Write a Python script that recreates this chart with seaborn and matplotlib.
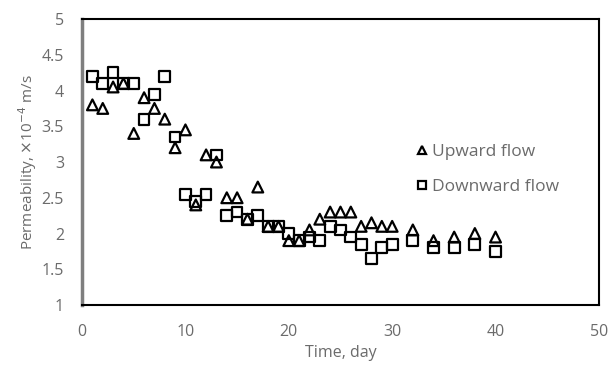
import matplotlib
matplotlib.use("Agg")
import matplotlib.pyplot as plt
import pandas as pd
import seaborn as sns

# data
days_up = [1, 2, 3, 4, 5, 6, 7, 8, 9, 10, 11, 12, 13, 14, 15, 16, 17, 18, 19, 20,
           21, 22, 23, 24, 25, 26, 27, 28, 29, 30, 32, 34, 36, 38, 40]
perm_up = [3.8, 3.75, 4.05, 4.1, 3.4, 3.9, 3.75, 3.6, 3.2, 3.45, 2.4, 3.1, 3.0, 2.5, 2.5,
           2.2, 2.65, 2.1, 2.1, 1.9, 1.9, 2.05, 2.2, 2.3, 2.3, 2.3, 2.1, 2.15, 2.1, 2.1,
           2.05, 1.9, 1.95, 2.0, 1.95]

days_down = [1, 2, 3, 4, 5, 6, 7, 8, 9, 10, 11, 12, 13, 14, 15, 16, 17, 18, 19, 20,
             21, 22, 23, 24, 25, 26, 27, 28, 29, 30, 32, 34, 36, 38, 40]
perm_down = [4.2, 4.1, 4.25, 4.1, 4.1, 3.6, 3.95, 4.2, 3.35, 2.55, 2.45, 2.55, 3.1, 2.25,
             2.3, 2.2, 2.25, 2.1, 2.1, 2.0, 1.9, 1.95, 1.9, 2.1, 2.05, 1.95, 1.85, 1.65,
             1.8, 1.85, 1.9, 1.8, 1.8, 1.85, 1.75]

sns.set_theme(style="white")
plt.rcParams["font.family"] = ["Open Sans", "DejaVu Sans"]

TEXT_GREY = "#6b6b6b"

df = pd.concat([
    pd.DataFrame({"day": days_up, "perm": perm_up, "flow": "Upward flow"}),
    pd.DataFrame({"day": days_down, "perm": perm_down, "flow": "Downward flow"}),
])

fig = plt.figure(figsize=(6.08, 3.67), dpi=100)
ax = fig.add_axes([0.135, 0.169, 0.85, 0.779])

sns.scatterplot(
    data=df, x="day", y="perm", hue="flow", style="flow",
    markers={"Upward flow": "^", "Downward flow": "s"},
    palette={"Upward flow": "black", "Downward flow": "black"},
    s=60, linewidth=1.6, ax=ax, legend=False,
)
for coll in ax.collections:
    coll.set_facecolor("none")
    coll.set_edgecolor("black")

ax.set_xlim(0, 50)
ax.set_ylim(1, 5)
ax.set_xticks(range(0, 51, 10))
ax.set_yticks([1, 1.5, 2, 2.5, 3, 3.5, 4, 4.5, 5])
ax.set_yticklabels(["1", "1.5", "2", "2.5", "3", "3.5", "4", "4.5", "5"])
ax.tick_params(colors=TEXT_GREY, labelsize=11.5, length=0)
ax.tick_params(axis="x", pad=14)
ax.tick_params(axis="y", pad=13)
ax.set_xlabel("Time, day", color=TEXT_GREY, fontsize=11.5, labelpad=3)
ax.set_ylabel(r"Permeability, $\times$10$^{-4}$ m/s", color=TEXT_GREY, fontsize=11,
              labelpad=2)
for side in ["top", "right", "bottom"]:
    ax.spines[side].set_color("black")
    ax.spines[side].set_linewidth(1.5)
ax.spines["left"].set_color("#7f7f7f")
ax.spines["left"].set_linewidth(2.5)

# legend (no frame, markers in black, text in grey)
handles = [
    plt.Line2D([], [], marker="^", linestyle="none", markerfacecolor="none",
               markeredgecolor="black", markersize=6, markeredgewidth=1.6),
    plt.Line2D([], [], marker="s", linestyle="none", markerfacecolor="none",
               markeredgecolor="black", markersize=6, markeredgewidth=1.6),
]
leg = ax.legend(handles, ["Upward flow", "Downward flow"], frameon=False,
                loc="center left", bbox_to_anchor=(0.61, 0.475), fontsize=12.5,
                handletextpad=0.1, labelspacing=1.1, handlelength=1.0)
for t in leg.get_texts():
    t.set_color(TEXT_GREY)

fig.savefig("out.png", dpi=100)
